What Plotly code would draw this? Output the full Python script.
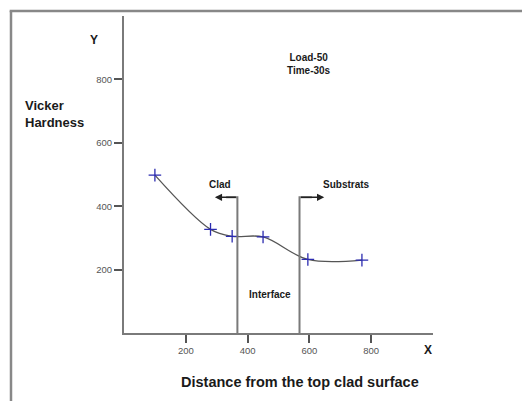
import plotly.graph_objects as go

# Data
distance = [100, 280, 350, 450, 595, 770]
hardness = [498, 327, 305, 303, 232, 230]

# Zone boundaries (x position, arrow end x, arrow height) and labels
clad_boundary = 367
clad_arrow_end = 294
substrate_boundary = 568
substrate_arrow_end = 648
arrow_level = 428
zone_labels = ["Clad", "Substrats", "Interface"]
x_ticks = [200, 400, 600, 800]
y_ticks = [200, 400, 600, 800]

LINE = "#7a7a7a"
FONT = "Liberation Sans"

fig = go.Figure()

fig.add_trace(go.Scatter(
    x=distance, y=hardness, mode="lines+markers",
    line=dict(color="#555555", width=1.3, shape="spline", smoothing=1.0),
    marker=dict(symbol="cross-thin", size=9, line=dict(color="#2b2bb0", width=1.3)),
    showlegend=False, hoverinfo="skip"))

# boundary lines
for bx, ex in [(clad_boundary, clad_arrow_end), (substrate_boundary, substrate_arrow_end)]:
    fig.add_trace(go.Scatter(x=[bx, bx, (bx + ex) / 2], y=[0, arrow_level, arrow_level],
                             mode="lines", line=dict(color=LINE, width=2),
                             showlegend=False, hoverinfo="skip"))
    fig.add_annotation(x=ex, y=arrow_level, ax=bx, ay=arrow_level, axref="x", ayref="y",
                       xref="x", yref="y", text="", showarrow=True,
                       arrowhead=2, arrowsize=0.9, arrowwidth=1.6, arrowcolor="#222222")

def txt(x, y, t, size=10, xref="x", yref="y", xanchor="center", align="center"):
    fig.add_annotation(x=x, y=y, xref=xref, yref=yref, text=t, showarrow=False,
                       font=dict(family=FONT, size=size, color="#1a1a1a"),
                       xanchor=xanchor, yanchor="middle", align=align)

txt(311, 467, "<b>" + zone_labels[0] + "</b>")
txt(720, 467, "<b>" + zone_labels[1] + "</b>")
txt(472, 120, "<b>" + zone_labels[2] + "</b>")
txt(600, 850, "<b>Load-50<br>Time-30s</b>")
txt(-0.097, 0.924, "<b>Y</b>", size=12, xref="paper", yref="paper")
txt(0.984, -0.054, "<b>X</b>", size=12, xref="paper", yref="paper")
txt(-0.327, 0.691, "<b>Vicker<br>Hardness</b>", size=13, xref="paper", yref="paper",
    xanchor="left", align="left")
txt(0.57, -0.155, "<b>Distance from the top clad surface</b>", size=14.5, xref="paper", yref="paper")

# outer frame (top and left edges)
fig.add_shape(type="line", xref="paper", yref="paper", x0=-0.37, x1=1.4, y0=1.0158, y1=1.0158,
              line=dict(color="#888888", width=2.5))
fig.add_shape(type="line", xref="paper", yref="paper", x0=-0.3657, x1=-0.3657, y0=-0.3, y1=1.0158,
              line=dict(color="#888888", width=2.5))

axis_common = dict(showgrid=False, zeroline=False, showline=True, linecolor=LINE, linewidth=2,
                   ticks="outside", ticklen=8, tickwidth=1.5, tickcolor="#555555",
                   tickfont=dict(family=FONT, size=9.5, color="#555555"), range=[0, 1000])
fig.update_xaxes(tickvals=x_ticks, ticktext=[str(v) for v in x_ticks], **axis_common)
fig.update_yaxes(tickvals=y_ticks, ticktext=[str(v) for v in y_ticks], **axis_common)

fig.update_layout(width=522, height=393, margin=dict(l=116, r=97, t=8, b=68),
                  paper_bgcolor="white", plot_bgcolor="white", showlegend=False)

fig.write_html("out.html")
